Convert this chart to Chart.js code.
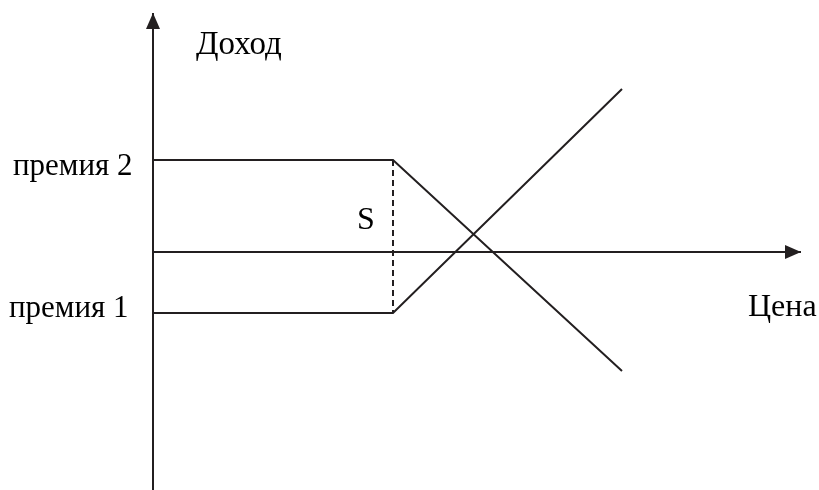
<!DOCTYPE html>
<html>
<head>
<meta charset="utf-8">
<script src="https://cdn.jsdelivr.net/npm/chart.js@4/dist/chart.umd.min.js"></script>
<style>
  html, body { margin: 0; padding: 0; background: #fff; }
  #wrap { width: 819px; height: 490px; }
</style>
</head>
<body>
<div id="wrap"><canvas id="payoffChart"></canvas></div>
<script>
// Payoff diagram: two options with premium levels and strike S
// x = price, y = income (1 unit ~ 10px of the original drawing)

const priceRange = [-15.3, 66.6];
const incomeRange = [-23.8, 25.2];

const priceAxis = [0, 64.8];      // horizontal axis, ends in arrow
const incomeAxis = [-23.8, 23.9]; // vertical axis, ends in arrow

const prices = [0, 24, 46.9];     // start, strike S, end
const linePremium2 = [9.2, 9.2, -11.9];
const linePremium1 = [-6.1, -6.1, 16.3];

const strike = 24;
const premium2 = 9.2;
const premium1 = -6.1;

const textLabels = [
  { text: 'Доход',    x: 4.3,   y: 19.8, size: 33 },
  { text: 'премия 2', x: -14.0, y: 7.7,  size: 31 },
  { text: 'премия 1', x: -14.4, y: -6.5, size: 31 },
  { text: 'S',        x: 20.4,  y: 2.3,  size: 32 },
  { text: 'Цена',     x: 59.5,  y: -6.4, size: 32 }
];

const ink = '#231f20';

function toPoints(xs, ys) {
  return xs.map((x, i) => ({ x: x, y: ys[i] }));
}

const arrowsAndText = {
  id: 'arrowsAndText',
  afterDatasetsDraw(chart) {
    const ctx = chart.ctx;
    const sx = chart.scales.x;
    const sy = chart.scales.y;

    ctx.save();
    ctx.fillStyle = ink;

    // arrow on price axis
    const ax = sx.getPixelForValue(priceAxis[1]);
    const ay = sy.getPixelForValue(0);
    ctx.beginPath();
    ctx.moveTo(ax, ay);
    ctx.lineTo(ax - 16, ay - 7);
    ctx.lineTo(ax - 16, ay + 7);
    ctx.closePath();
    ctx.fill();

    // arrow on income axis
    const bx = sx.getPixelForValue(0);
    const by = sy.getPixelForValue(incomeAxis[1]);
    ctx.beginPath();
    ctx.moveTo(bx, by);
    ctx.lineTo(bx - 7, by + 16);
    ctx.lineTo(bx + 7, by + 16);
    ctx.closePath();
    ctx.fill();

    // labels
    ctx.fillStyle = '#000';
    ctx.textAlign = 'left';
    ctx.textBaseline = 'alphabetic';
    textLabels.forEach(l => {
      ctx.font = l.size + 'px "Liberation Serif", "Times New Roman", serif';
      ctx.fillText(l.text, sx.getPixelForValue(l.x), sy.getPixelForValue(l.y));
    });
    ctx.restore();
  }
};

new Chart(document.getElementById('payoffChart'), {
  type: 'line',
  data: {
    datasets: [
      {
        label: 'Цена',
        data: toPoints(priceAxis, [0, 0]),
        borderColor: ink,
        borderWidth: 2
      },
      {
        label: 'Доход',
        data: toPoints([0, 0], incomeAxis),
        borderColor: ink,
        borderWidth: 2
      },
      {
        label: 'премия 2',
        data: toPoints(prices, linePremium2),
        borderColor: ink,
        borderWidth: 2
      },
      {
        label: 'премия 1',
        data: toPoints(prices, linePremium1),
        borderColor: ink,
        borderWidth: 2
      },
      {
        label: 'S',
        data: toPoints([strike, strike], [premium2, premium1]),
        borderColor: ink,
        borderWidth: 2,
        borderDash: [6, 4]
      }
    ]
  },
  options: {
    responsive: true,
    maintainAspectRatio: false,
    animation: false,
    layout: { padding: 0 },
    elements: {
      point: { radius: 0, hoverRadius: 0 },
      line: { tension: 0, fill: false }
    },
    plugins: {
      legend: { display: false },
      tooltip: { enabled: false }
    },
    scales: {
      x: { type: 'linear', min: priceRange[0], max: priceRange[1], display: false },
      y: { type: 'linear', min: incomeRange[0], max: incomeRange[1], display: false }
    }
  },
  plugins: [arrowsAndText]
});
</script>
</body>
</html>
